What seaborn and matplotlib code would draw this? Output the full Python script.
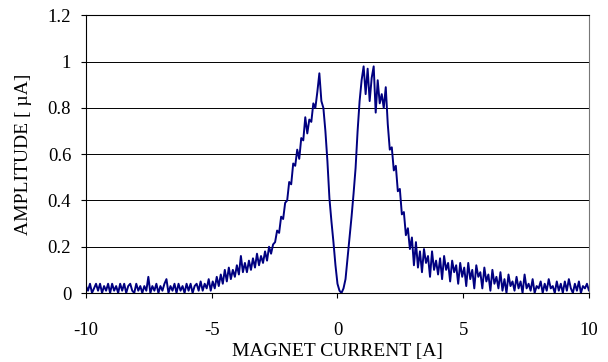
import numpy as np
import matplotlib
matplotlib.use("Agg")
import matplotlib.pyplot as plt
import seaborn as sns

# magnet current sampling grid [A]
current = np.linspace(-10, 10, 251)

# amplitude [uA], one value per 0.08 A
baseline_left = [
    0.03, 0.01, 0.04, 0.00, 0.02, 0.04, 0.01, 0.04, 0.00, 0.03,
    0.01, 0.04, 0.00, 0.04, 0.01, 0.03, 0.00, 0.04, 0.01, 0.04,
    0.00, 0.03, 0.04, 0.01, 0.00, 0.04, 0.01, 0.03, 0.00, 0.03,
    0.01, 0.07, 0.00, 0.03, 0.01, 0.04, 0.00, 0.03, 0.01, 0.04,
    0.06, 0.00, 0.03, 0.01, 0.04, 0.00, 0.04, 0.01, 0.03, 0.00,
    0.04, 0.01, 0.04, 0.00, 0.03, 0.04, 0.01, 0.05, 0.01, 0.04,
    0.02, 0.06, 0.01,
]
rise_left = [
    0.05, 0.02, 0.07, 0.03, 0.08, 0.04, 0.10, 0.05, 0.11, 0.06,
    0.10, 0.07, 0.12, 0.08, 0.16, 0.09, 0.13, 0.09, 0.14, 0.10,
    0.15, 0.11, 0.17, 0.12, 0.16, 0.13, 0.18, 0.14, 0.20, 0.17,
    0.21,
]
peaks = [
    0.22, 0.27, 0.26, 0.33, 0.32, 0.39, 0.40, 0.48, 0.47, 0.56,
    0.55, 0.62, 0.58, 0.67, 0.66, 0.76, 0.69, 0.75, 0.74, 0.82,
    0.80, 0.87, 0.95, 0.83, 0.80, 0.70, 0.57, 0.41, 0.31, 0.22,
    0.12, 0.04, 0.01, 0.00, 0.02, 0.06, 0.15, 0.24, 0.33, 0.43,
    0.54, 0.70, 0.83, 0.92, 0.98, 0.86, 0.97, 0.83, 0.93, 0.98,
    0.78, 0.92, 0.82, 0.86, 0.80, 0.89, 0.73, 0.62, 0.63, 0.53,
    0.55, 0.44, 0.45, 0.34, 0.35, 0.25, 0.28, 0.19, 0.24,
]
tail_right = [
    0.12, 0.22, 0.11, 0.18, 0.09, 0.19, 0.13, 0.16, 0.07, 0.18, 0.10, 0.14, 0.08,
    0.15, 0.06, 0.16, 0.10, 0.13, 0.05, 0.14, 0.09, 0.12, 0.04, 0.13, 0.07, 0.11,
    0.03, 0.13, 0.06, 0.10, 0.02, 0.12, 0.07, 0.09, 0.02, 0.11, 0.05, 0.08,
    0.01, 0.10, 0.04, 0.07, 0.02, 0.09, 0.01, 0.06, 0.00, 0.08, 0.03, 0.05, 0.01,
    0.07, 0.02, 0.05, 0.00, 0.08, 0.02, 0.04, 0.01, 0.06, 0.00, 0.03, 0.02,
    0.05, 0.00, 0.04, 0.01, 0.06, 0.02, 0.03, 0.00, 0.05, 0.01, 0.04, 0.00, 0.05,
    0.01, 0.06, 0.02, 0.00, 0.04, 0.01, 0.05, 0.00, 0.03, 0.02, 0.04, 0.01,
]
amplitude = baseline_left + rise_left + peaks + tail_right
assert len(amplitude) == len(current)

x_ticks = [-10, -5, 0, 5, 10]
x_labels = ["-10", "-5", "0", "5", "10"]
y_ticks = [0, 0.2, 0.4, 0.6, 0.8, 1.0, 1.2]
y_labels = ["0", "0.2", "0.4", "0.6", "0.8", "1", "1.2"]

sns.set_theme(style="white")
plt.rcParams["font.family"] = ["Liberation Serif", "DejaVu Serif"]

fig = plt.figure(figsize=(6.08, 3.62), dpi=100)
ax = fig.add_axes([0.1414, 0.1906, 0.8273, 0.7666])

sns.lineplot(x=current, y=amplitude, color="#000080", linewidth=1.4, ax=ax)

ax.set_xlim(-10, 10)
ax.set_ylim(0, 1.2)
ax.set_xticks(x_ticks)
ax.set_xticklabels(x_labels)
ax.set_yticks(y_ticks)
ax.set_yticklabels(y_labels)
ax.yaxis.grid(True, color="black", linewidth=0.7)
ax.set_axisbelow(True)
ax.tick_params(bottom=True, left=True, direction="out", length=3.6, width=0.8,
               color="black", labelsize=13.5, labelcolor="black")
ax.tick_params(axis="x", pad=17.5)
ax.tick_params(axis="y", pad=7)
for s in ax.spines.values():
    s.set_color("black")
    s.set_linewidth(0.8)
ax.spines["right"].set_color("#777777")

ax.set_xlabel("MAGNET CURRENT [A]", fontsize=14, color="black", labelpad=2.5)
ax.set_ylabel("AMPLITUDE [ \u00b5A]", fontsize=14, color="black", labelpad=11.5)

fig.savefig("out.png", dpi=100)
